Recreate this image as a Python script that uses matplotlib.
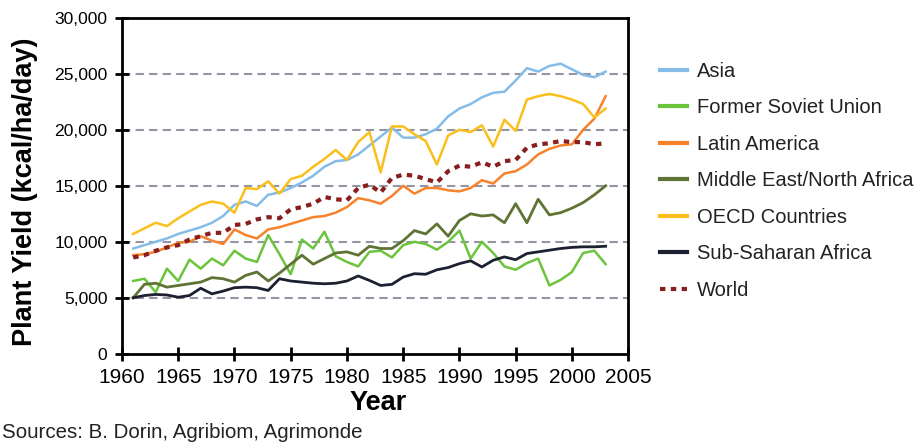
import numpy as np
import matplotlib
matplotlib.use('Agg')
import matplotlib.pyplot as plt

plt.rcParams['font.family'] = ['Liberation Sans', 'DejaVu Sans']

years = list(range(1961, 2004))

# values (kcal/ha/day)
asia = [9400, 9700, 10000, 10300, 10700, 11000, 11300, 11700, 12300, 13300,
        13600, 13200, 14200, 14400, 14800, 15300, 15900, 16700, 17200, 17300,
        17800, 18600, 19400, 20200, 19300, 19300, 19600, 20100, 21200, 21900,
        22300, 22900, 23300, 23400, 24400, 25500, 25200, 25700, 25900, 25400,
        24900, 24700, 25200]
fsu = [6500, 6700, 5500, 7600, 6500, 8400, 7600, 8500, 7900, 9200,
       8500, 8200, 10600, 8900, 7100, 10200, 9400, 10900, 8700, 8200,
       7800, 9100, 9200, 8600, 9700, 10000, 9800, 9300, 10000, 11000,
       8500, 10000, 9000, 7800, 7500, 8100, 8500, 6100, 6600, 7300,
       9000, 9200, 8000]
latin = [8800, 8900, 9100, 9500, 9900, 10000, 10500, 10100, 9800, 11100,
         10600, 10300, 11100, 11300, 11600, 11900, 12200, 12300, 12600, 13100,
         13900, 13700, 13400, 14100, 15000, 14300, 14800, 14800, 14600, 14500,
         14800, 15500, 15200, 16100, 16300, 16900, 17800, 18300, 18600, 18700,
         20000, 21000, 23000]
mena = [5000, 6200, 6300, 5950, 6100, 6250, 6400, 6800, 6700, 6400,
        7000, 7300, 6500, 7200, 8000, 8800, 8000, 8500, 9000, 9100,
        8800, 9600, 9400, 9400, 10100, 11000, 10700, 11600, 10500, 11900,
        12500, 12300, 12400, 11700, 13400, 11700, 13800, 12400, 12600, 13000,
        13500, 14200, 15000]
oecd = [10700, 11200, 11700, 11400, 12100, 12700, 13300, 13600, 13400, 12600,
        14800, 14700, 15400, 14300, 15600, 15900, 16700, 17400, 18200, 17300,
        18900, 19800, 16200, 20300, 20300, 19600, 19000, 16900, 19500, 20000,
        19800, 20400, 18500, 20900, 19900, 22700, 23000, 23200, 23000, 22700,
        22300, 21100, 21900]
ssa = [5000, 5200, 5300, 5250, 5050, 5200, 5850, 5350, 5600, 5900,
       5950, 5900, 5650, 6700, 6500, 6400, 6300, 6250, 6300, 6500,
       6950, 6550, 6100, 6200, 6850, 7150, 7100, 7500, 7700, 8050,
       8300, 7750, 8350, 8650, 8400, 8950, 9100, 9250, 9400, 9500,
       9550, 9550, 9600]
world = [8600, 8800, 9200, 9500, 9700, 10200, 10500, 10800, 10800, 11500,
         11600, 12000, 12200, 12100, 12900, 13100, 13400, 14000, 13800, 13700,
         14800, 15100, 14400, 15700, 16000, 15900, 15600, 15300, 16300, 16800,
         16700, 17100, 16700, 17200, 17300, 18400, 18700, 18800, 19000, 18900,
         18900, 18700, 18800]

series = [
    ('Asia', asia, '#85bce8', '-', 1.8),
    ('Former Soviet Union', fsu, '#6cc43c', '-', 1.8),
    ('Latin America', latin, '#f7822a', '-', 1.8),
    ('Middle East/North Africa', mena, '#5f7334', '-', 2.0),
    ('OECD Countries', oecd, '#fbbf1c', '-', 1.8),
    ('Sub-Saharan Africa', ssa, '#1c2030', '-', 2.0),
    ('World', world, '#8a1e1e', (0, (1.3, 1.3)), 3.0),
]

fig = plt.figure(figsize=(9.17, 4.45), dpi=100)
ax = fig.add_axes([0.133, 0.205, 0.552, 0.755])

for gy in [5000, 10000, 15000, 20000, 25000]:
    ax.axhline(gy, color='#9494a2', lw=1.5, ls=(0, (4, 2.5)), zorder=1)

for name, vals, col, ls, lw in series:
    ax.plot(years, vals, color=col, ls=ls, lw=lw, label=name, zorder=3)

ax.set_xlim(1960, 2005)
ax.set_ylim(0, 30000)
ax.set_xticks(range(1960, 2006, 5))
ax.set_yticks(range(0, 30001, 5000))
ax.set_yticklabels([f'{v:,}' for v in range(0, 30001, 5000)])
ax.tick_params(axis='both', direction='inout', length=10, width=2)
ax.tick_params(axis='y', labelsize=12.6, pad=5.5)
ax.tick_params(axis='x', labelsize=15, pad=5)
for s in ax.spines.values():
    s.set_linewidth(2)
    s.set_color('black')

ax.set_xlabel('Year', fontsize=19.5, fontweight='bold', va='top')
ax.xaxis.set_label_coords(0.506, -0.108)
ax.set_ylabel('Plant Yield (kcal/ha/day)', fontsize=19.5, fontweight='bold')
ax.yaxis.set_label_coords(-0.166, 0.482)

leg = fig.legend(loc='upper left', bbox_to_anchor=(0.700, 0.902), frameon=False,
                 fontsize=14.5, labelspacing=0.87, handlelength=1.35, handletextpad=0.5)
for t in leg.get_texts():
    t.set_color('#222222')
for h in leg.get_lines():
    h.set_linewidth(3)

fig.text(0.002, 0.015, 'Sources: B. Dorin, Agribiom, Agrimonde', fontsize=14.8, color='#222222')

fig.savefig('out.png', dpi=100)
